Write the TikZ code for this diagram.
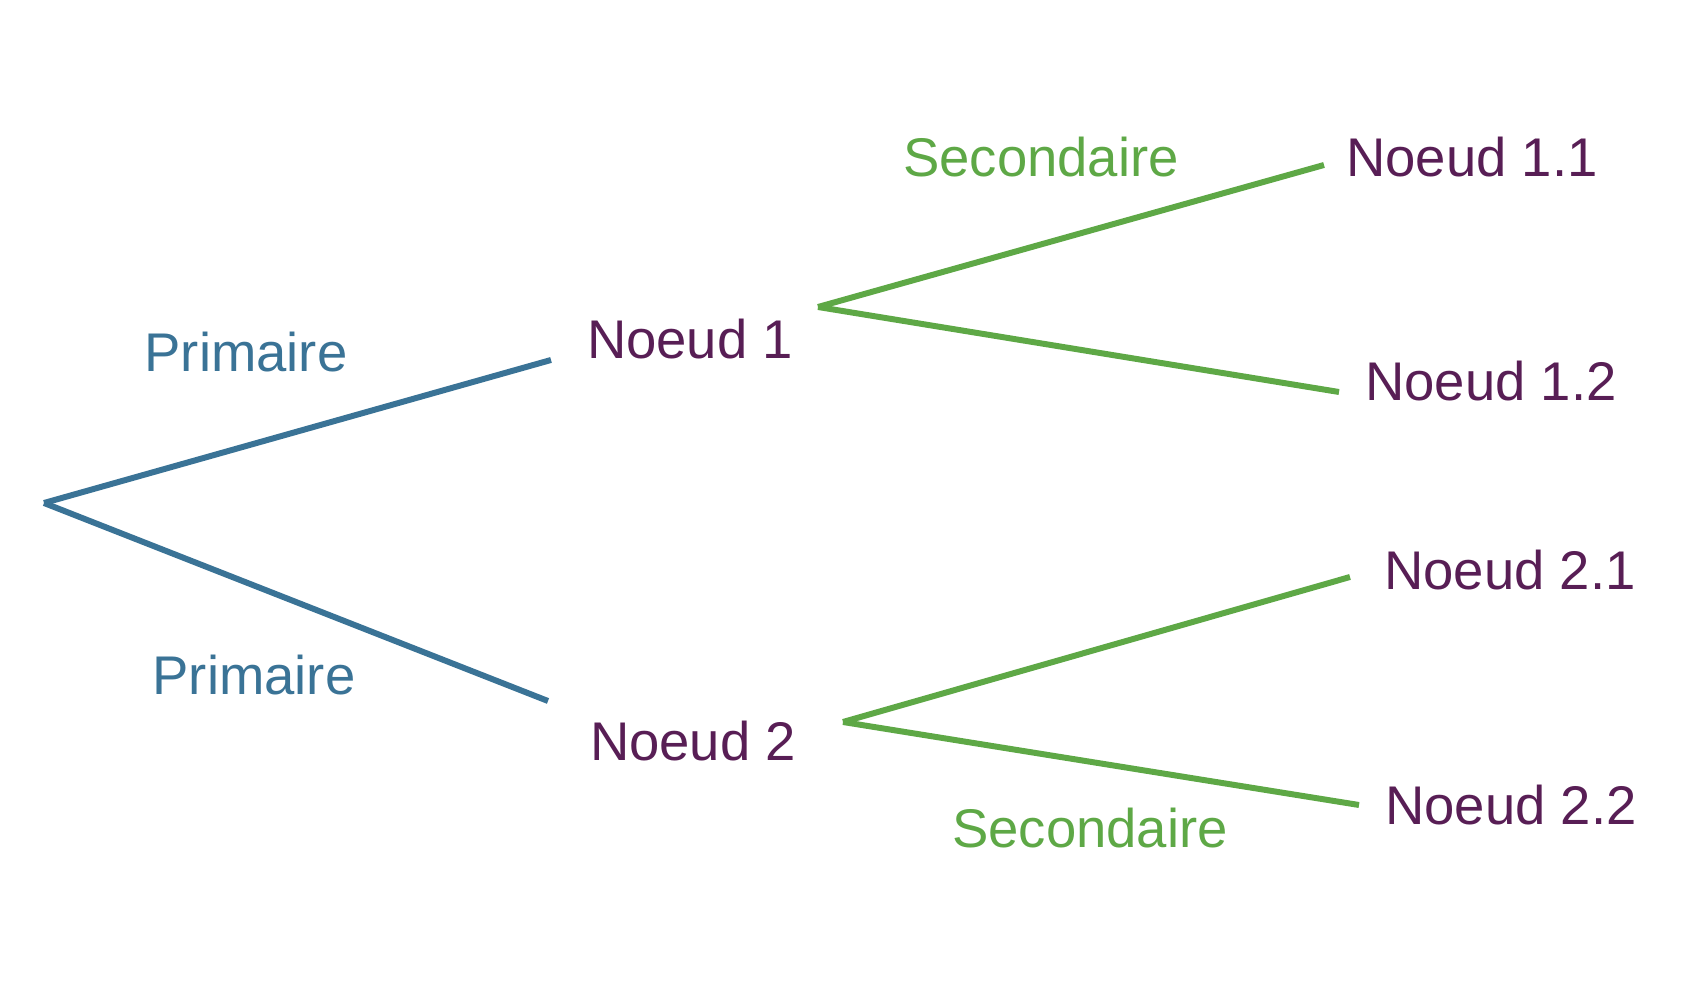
\documentclass[tikz,border=0pt]{standalone}
\usepackage{fontspec}
\setmainfont{Liberation Sans}
\usepackage{tikz}
\definecolor{bleuprim}{RGB}{58,115,150}
\definecolor{vertsec}{RGB}{94,168,70}
\definecolor{violetnoeud}{RGB}{88,30,85}

\begin{document}
\begin{tikzpicture}[auto,
    noeud/.style ={text=violetnoeud, anchor=base, inner sep=0pt, font=\fontsize{15.5}{18}\selectfont},
    primaire/.style ={text=bleuprim, anchor=base, inner sep=0pt, font=\fontsize{15.5}{18}\selectfont},
    secondaire/.style ={text=vertsec, anchor=base, inner sep=0pt, font=\fontsize{15.5}{18}\selectfont},
    brancheP/.style ={draw=bleuprim, line width=1.7pt},
    brancheS/.style ={draw=vertsec, line width=1.7pt}]
   \useasboundingbox (0,0) rectangle (17,9.96);

   \coordinate (R) at (0.44,4.93);
   \coordinate (A) at (5.51,6.36);
   \coordinate (B) at (5.48,2.95);
   \coordinate (A0) at (8.18,6.89);
   \coordinate (A1) at (13.24,8.31);
   \coordinate (A2) at (13.39,6.04);
   \coordinate (B0) at (8.43,2.74);
   \coordinate (B1) at (13.50,4.19);
   \coordinate (B2) at (13.59,1.91);

   \node[noeud] (N1)  at (6.90,6.37)  {Noeud 1};
   \node[noeud] (N2)  at (6.93,2.35)  {Noeud 2};
   \node[noeud] (N11) at (14.72,8.19) {Noeud 1.1};
   \node[noeud] (N12) at (14.91,5.95) {Noeud 1.2};
   \node[noeud] (N21) at (15.10,4.06) {Noeud 2.1};
   \node[noeud] (N22) at (15.11,1.71) {Noeud 2.2};

   \node[primaire] (P1) at (2.46,6.24) {Primaire};
   \node[primaire] (P2) at (2.54,3.01) {Primaire};
   \node[secondaire] (S1) at (10.41,8.19) {Secondaire};
   \node[secondaire] (S2) at (10.90,1.48) {Secondaire};

   \draw[brancheP] (R) -- (A);
   \draw[brancheP] (R) -- (B);
   \draw[brancheS] (A0) -- (A1);
   \draw[brancheS] (A0) -- (A2);
   \draw[brancheS] (B0) -- (B1);
   \draw[brancheS] (B0) -- (B2);
 \end{tikzpicture}
\end{document}
